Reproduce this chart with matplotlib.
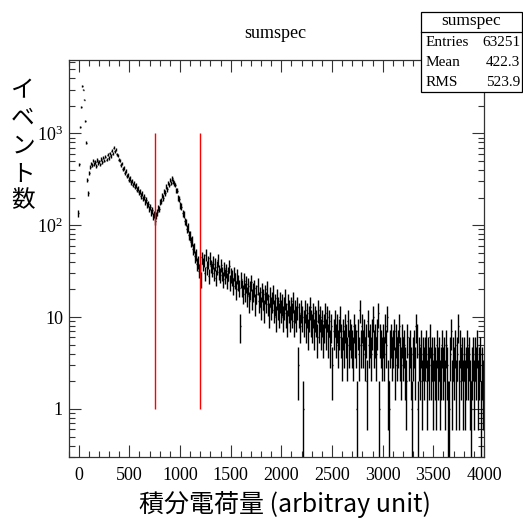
import numpy as np
import matplotlib
matplotlib.use("Agg")
import matplotlib.pyplot as plt
from matplotlib.ticker import MultipleLocator, LogLocator, NullFormatter, FixedLocator, FixedFormatter
from matplotlib.patches import Rectangle
from matplotlib.lines import Line2D

plt.rcParams['mathtext.fontset'] = 'stix'

# histogram: bins of width 10 from -100 to 4000, one row = 100 units
bin_start = -100
bin_width = 10
counts_peak = [
    [0, 0, 0, 0, 0, 0, 0, 0, 0, 135],                         # -100
    [460, 1180, 1950, 3270, 3000, 2340, 1360, 790, 310, 223],  # 0
    [370, 435, 470, 452, 505, 468, 490, 445, 512, 478],       # 100
    [495, 460, 530, 488, 545, 505, 560, 520, 585, 540],       # 200
    [610, 570, 650, 600, 700, 640, 665, 590, 575, 520],       # 300
    [505, 455, 470, 410, 420, 375, 390, 345, 355, 315],       # 400
    [325, 295, 305, 275, 290, 262, 270, 245, 252, 228],       # 500
    [235, 210, 222, 196, 205, 180, 190, 168, 172, 150],       # 600
    [158, 138, 145, 124, 130, 112, 128, 138, 155, 150],       # 700
    [178, 185, 212, 200, 232, 225, 262, 248, 290, 275],       # 800
    [310, 290, 325, 300, 285, 275, 240, 238, 200, 195],       # 900
    [165, 160, 135, 132, 110, 108, 92, 95, 78, 77],           # 1000
    [66, 68, 55, 57, 46, 48, 38, 40, 32, 33],                 # 1100
]
counts_tail = [
    [26, 45, 38, 42, 30, 48, 35, 40, 28, 44],   # 1200
    [36, 33, 40, 30, 38, 27, 35, 42, 31, 29],   # 1300
    [37, 30, 26, 34, 28, 32, 25, 30, 36, 24],   # 1400
    [29, 27, 22, 30, 25, 20, 28, 24, 21, 8],    # 1500
    [26, 21, 18, 25, 19, 23, 17, 22, 15, 20],   # 1600
    [24, 16, 19, 21, 14, 18, 22, 15, 17, 13],   # 1700
    [19, 16, 12, 18, 15, 20, 14, 11, 17, 13],   # 1800
    [15, 18, 12, 14, 10, 16, 13, 11, 15, 12],   # 1900
    [14, 10, 13, 16, 11, 9, 14, 12, 10, 13],    # 2000
    [11, 15, 9, 12, 10, 13, 3, 11, 8, 12],      # 2100
    [10, 1, 9, 12, 8, 11, 7, 10, 13, 9],        # 2200
    [8, 11, 7, 10, 9, 6, 12, 8, 10, 7],         # 2300
    [9, 6, 8, 11, 7, 10, 6, 9, 5, 8],           # 2400
    [3, 7, 9, 6, 8, 5, 7, 10, 6, 4],            # 2500
    [7, 5, 8, 6, 4, 9, 5, 7, 6, 5],             # 2600
    [4, 8, 6, 5, 1, 7, 4, 12, 5, 8],            # 2700
    [5, 7, 4, 6, 2, 9, 5, 6, 4, 7],             # 2800
    [10, 5, 6, 4, 7, 11, 1, 6, 5, 4],           # 2900
    [6, 4, 8, 5, 10, 2, 1, 5, 6, 4],            # 3000
    [5, 7, 3, 6, 4, 5, 8, 4, 3, 6],             # 3100
    [4, 5, 3, 2, 6, 4, 5, 3, 1, 4],             # 3200
    [5, 3, 8, 6, 1, 4, 3, 5, 2, 4],             # 3300
    [3, 4, 5, 2, 4, 3, 6, 3, 4, 2],             # 3400
    [4, 3, 2, 5, 3, 4, 2, 3, 5, 3],             # 3500
    [4, 2, 5, 3, 1, 1, 4, 7, 2, 4],             # 3600
    [3, 5, 2, 4, 8, 2, 5, 3, 4, 2],             # 3700
    [4, 2, 3, 5, 3, 4, 2, 1, 3, 4],             # 3800
    [2, 4, 3, 5, 2, 3, 4, 1, 3, 2],             # 3900
]
cut_lines = [750, 1200]
x_ticks = [0, 500, 1000, 1500, 2000, 2500, 3000, 3500, 4000]
y_ticks = [1, 10, 100, 1000]
y_labels = ['1', '10', r'$\mathregular{10^{2}}$', r'$\mathregular{10^{3}}$']
stats = [('Entries', '63251'), ('Mean', '422.3'), ('RMS', '523.9')]

counts = np.array(sum(counts_peak + counts_tail, []), dtype=float)
lo_edge = bin_start + bin_width * np.arange(len(counts))
centers = lo_edge + bin_width / 2
m = counts > 0
n = counts[m]
xc = centers[m]
err = np.sqrt(n)
low = np.clip(n - err, 1e-3, None)

W, H = 523, 519
fig = plt.figure(figsize=(W / 100, H / 100), dpi=100)
ax = fig.add_axes([68.5 / W, 1 - 457 / H, (484 - 68.5) / W, (457 - 60) / H])

ax.set_yscale('log')
ax.vlines(xc, low, n + err, color='black', lw=1.0)
ax.hlines(n, xc - bin_width / 2, xc + bin_width / 2, color='black', lw=1.0)
ax.vlines(cut_lines, 1, 1000, color='red', lw=1.0)

ax.set_xlim(-100, 4000)
ax.set_ylim(0.3, 6300)

serif = 'Liberation Serif'
ax.xaxis.set_major_locator(FixedLocator(x_ticks))
ax.xaxis.set_minor_locator(MultipleLocator(100))
ax.yaxis.set_major_locator(FixedLocator(y_ticks))
ax.yaxis.set_major_formatter(FixedFormatter(y_labels))
ax.yaxis.set_minor_locator(LogLocator(base=10, subs=np.arange(2, 10)))
ax.yaxis.set_minor_formatter(NullFormatter())
ax.tick_params(which='both', direction='in', top=True, right=True, width=0.8, color='#333333')
ax.tick_params(which='major', length=8.6)
ax.tick_params(which='minor', length=4.3)
ax.tick_params(axis='x', pad=7)
ax.tick_params(axis='y', pad=4)
for lab in ax.get_xticklabels() + ax.get_yticklabels():
    lab.set_fontfamily(serif)
    lab.set_fontsize(13)
for s in ax.spines.values():
    s.set_linewidth(0.9)
    s.set_color('#333333')

# title and axis labels
fig.text(275 / W, 1 - 33 / H, 'sumspec', ha='center', va='center', family=serif, fontsize=13)
jp = ['Noto Sans CJK JP', 'DejaVu Sans']
fig.text(23 / W, 1 - 146 / H, '\n'.join('イベント数'), ha='center', va='center',
         family=jp, fontsize=17, linespacing=1.25)
fig.text(285 / W, 1 - 505 / H, '積分電荷量 (arbitray unit)', ha='center', va='center',
         family=jp, fontsize=18)

# stats box
x0, x1, y0, y1, ysep = 421, 522, 12, 92, 32
fig.patches.append(Rectangle((x0 / W, 1 - y1 / H), (x1 - x0) / W, (y1 - y0) / H,
                             transform=fig.transFigure, facecolor='white',
                             edgecolor='black', lw=0.9, zorder=5))
fig.lines.append(Line2D([x0 / W, x1 / W], [1 - ysep / H, 1 - ysep / H],
                        transform=fig.transFigure, color='black', lw=0.9, zorder=6))
fig.text((x0 + x1) / 2 / W, 1 - 21 / H, 'sumspec', ha='center', va='center',
         family=serif, fontsize=12.5, zorder=7)
for i, (k, v) in enumerate(stats):
    yy = 1 - (43 + 19.5 * i) / H
    fig.text(426 / W, yy, k, ha='left', va='center', family=serif, fontsize=11, zorder=7)
    fig.text(520.5 / W, yy, v, ha='right', va='center', family=serif, fontsize=11, zorder=7)

fig.savefig('out.png', dpi=100)
